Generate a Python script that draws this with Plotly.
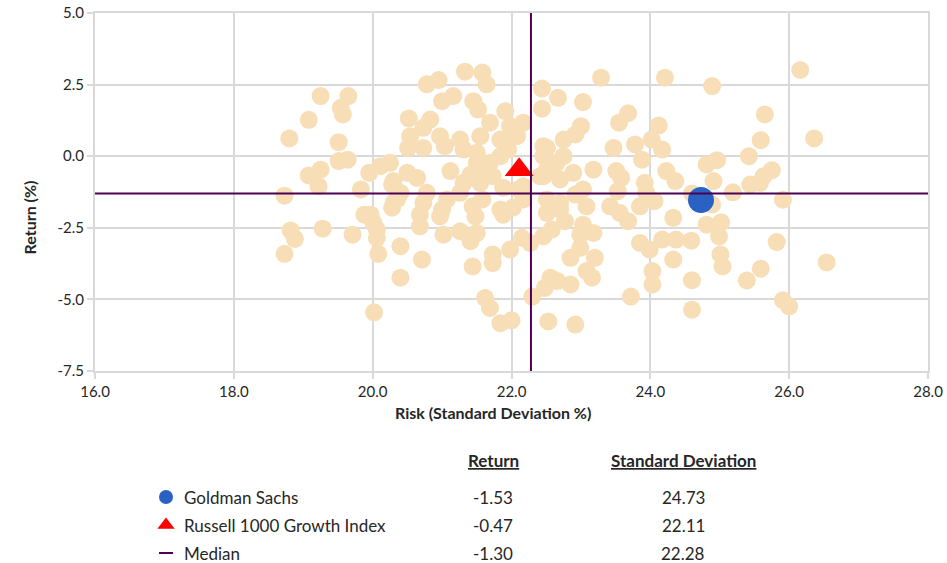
import plotly.graph_objects as go

# ---------------- data ----------------
risk_peers = [
    19.25, 19.65, 19.54, 19.57, 19.08, 18.80, 19.51, 19.51, 19.64, 19.08,
    19.25, 19.22, 18.73, 19.83, 19.95, 20.11, 20.25, 20.28, 18.82, 18.88,
    19.28, 18.73, 19.71, 19.88, 19.97, 20.01, 20.06, 20.06, 20.08, 20.02,
    20.28, 20.35, 20.40, 20.40, 21.33, 21.58, 21.64, 20.78, 20.95, 21.16,
    21.00, 21.45, 21.52, 22.44, 22.44, 21.91, 20.52, 20.83, 21.69, 22.17,
    21.98, 20.73, 20.54, 20.97, 21.55, 21.84, 22.08, 21.26, 20.51, 20.73,
    21.04, 21.31, 21.50, 21.69, 21.50, 21.95, 22.46, 20.50, 20.64, 21.12,
    21.41, 21.60, 21.31, 21.55, 21.88, 22.17, 22.41, 20.40, 20.78, 20.68,
    20.68, 21.00, 21.02, 21.26, 21.48, 21.50, 21.41, 21.88, 22.02, 21.26,
    20.73, 20.71, 21.44, 21.73, 21.73, 21.98, 22.15, 22.27, 21.62, 21.69,
    21.84, 22.00, 22.30, 22.48, 22.56, 22.53, 23.29, 24.21, 22.67, 23.03,
    23.68, 23.55, 24.12, 23.00, 22.92, 22.75, 22.51, 23.47, 23.78, 24.02,
    24.17, 23.88, 22.65, 22.46, 22.89, 23.18, 23.51, 23.58, 24.23, 24.36,
    23.92, 23.03, 23.53, 23.08, 23.42, 23.56, 23.68, 23.85, 24.06, 24.33,
    22.51, 22.70, 22.77, 22.58, 22.46, 22.99, 23.03, 23.18, 23.85, 23.99,
    24.17, 24.37, 24.59, 24.33, 22.85, 22.99, 23.20, 23.08, 22.66, 22.85,
    23.16, 24.03, 24.03, 23.72, 24.60, 24.60, 22.92, 24.89, 26.16, 25.65,
    26.36, 25.59, 25.42, 24.96, 24.81, 25.75, 25.63, 25.58, 25.44, 24.91,
    25.19, 25.91, 24.60, 24.89, 24.81, 25.02, 24.99, 25.82, 25.01, 25.04,
    25.59, 25.39, 26.54, 25.91, 26.00, 20.30, 21.73, 22.10, 20.30, 21.07,
    20.97, 21.44, 21.58, 21.84, 22.17, 22.51, 22.70, 22.51, 22.46, 22.75,
    22.70, 21.84, 22.92, 23.94,
]
return_peers = [
    2.10, 2.10, 1.69, 1.46, 1.27, 0.62, 0.49, -0.17, -0.12, -0.67,
    -0.47, -1.05, -1.38, -1.16, -0.58, -0.35, -0.23, -0.99, -2.59, -2.89,
    -2.53, -3.41, -2.74, -2.04, -2.04, -2.33, -2.56, -2.85, -3.41, -5.45,
    -1.80, -1.51, -3.14, -4.24, 2.95, 2.92, 2.51, 2.51, 2.66, 2.10,
    1.92, 1.92, 1.63, 2.36, 1.66, 1.57, 1.32, 1.28, 1.17, 1.17,
    1.05, 0.99, 0.70, 0.70, 0.70, 0.58, 0.70, 0.58, 0.29, 0.29,
    0.35, 0.23, 0.12, -0.23, -0.23, 0.23, 0.35, -0.58, -0.76, -0.52,
    -0.64, -0.47, -0.93, -0.93, -1.10, -1.05, -0.70, -1.28, -1.28, -2.04,
    -2.45, -1.86, -2.74, -2.62, -2.10, -2.68, -2.97, -2.04, -1.80, -1.28,
    -1.63, -3.61, -3.85, -3.43, -3.73, -3.26, -2.85, -3.03, -4.95, -5.30,
    -5.83, -5.73, -4.90, -4.60, -4.24, -5.77, 2.74, 2.74, 2.04, 1.89,
    1.50, 1.17, 1.07, 1.05, 0.76, 0.58, 0.29, 0.29, 0.41, 0.58,
    0.23, -0.12, -0.23, -0.70, -0.58, -0.47, -0.52, -0.76, -0.52, -0.87,
    -0.93, -1.16, -1.22, -1.75, -1.75, -1.98, -2.27, -1.75, -1.57, -2.15,
    -1.98, -1.86, -2.27, -2.56, -2.80, -2.74, -2.39, -2.68, -3.03, -3.26,
    -2.91, -2.91, -2.95, -3.61, -3.55, -3.20, -3.55, -4.01, -4.36, -4.48,
    -4.24, -4.01, -4.48, -4.90, -4.33, -5.36, -5.88, 2.45, 3.01, 1.46,
    0.62, 0.56, 0.00, -0.14, -0.29, -0.49, -0.70, -0.93, -0.99, -0.87,
    -1.26, -1.52, -1.30, -1.69, -2.39, -2.31, -2.80, -3.00, -3.43, -3.85,
    -3.93, -4.34, -3.71, -5.03, -5.24, -0.87, -0.70, -1.16, -1.63, -1.51,
    -2.10, -1.75, -1.51, -1.86, -1.51, -1.51, -1.63, -0.47, 0.00, 0.00,
    -0.81, 0.00, -1.34, -1.28,
]
assert len(risk_peers) == len(return_peers)

series_names = ["Goldman Sachs", "Russell 1000 Growth Index", "Median"]
series_return = [-1.53, -0.47, -1.30]
series_risk = [24.73, 22.11, 22.28]

x_ticks = [16.0, 18.0, 20.0, 22.0, 24.0, 26.0, 28.0]
y_ticks = [-7.5, -5.0, -2.5, 0.0, 2.5, 5.0]
x_ticktext = [f"{v:.1f}" for v in x_ticks]
y_ticktext = [f"{v:.1f}" for v in y_ticks]   # keeps ASCII hyphen for negatives

# ---------------- styles ----------------
FONT = "Lato, 'Open Sans', sans-serif"
TXT = "#262626"
GRID = "#D9D9D9"
PEER = "#F8DEB6"
BLUE = "#2A62C4"
RED = "#FF0000"
MED = "#4B0050"

W, H = 947, 563
ML, MR, MT, MB = 95, W - 928, 13, 0
plot_h = H - MT - MB
pw = W - ML - MR
main_bottom = (H - 371) / plot_h


def paper_y(screen_y):
    return (H - screen_y) / plot_h


def paper_x(screen_x):
    return (screen_x - ML) / pw


fig = go.Figure()

fig.add_trace(go.Scatter(
    x=risk_peers, y=return_peers, mode="markers",
    marker=dict(size=18, color=PEER, line=dict(width=0)),
    hoverinfo="skip", showlegend=False))
fig.add_trace(go.Scatter(
    x=[series_risk[0]], y=[series_return[0]], mode="markers",
    marker=dict(size=26, color=BLUE, line=dict(width=0)),
    showlegend=False, name=series_names[0]))
fig.add_trace(go.Scatter(
    x=[series_risk[1]], y=[series_return[1]], mode="markers",
    marker=dict(size=25, symbol="triangle-up", color=RED, line=dict(width=0)),
    showlegend=False, name=series_names[1]))
# median cross-hair
fig.add_trace(go.Scatter(
    x=[x_ticks[0], x_ticks[-1]], y=[series_return[2]] * 2, mode="lines",
    line=dict(color=MED, width=2), showlegend=False, hoverinfo="skip"))
fig.add_trace(go.Scatter(
    x=[series_risk[2]] * 2, y=[y_ticks[0], y_ticks[-1]], mode="lines",
    line=dict(color=MED, width=2), showlegend=False, hoverinfo="skip"))

# ---------------- table (legend) on an overlay axis ----------------
TABLE_H = 137.5
row_px0, row_step = 497, 28
y2_range = [(H - row_px0) / row_step, (H - TABLE_H - row_px0) / row_step]
header_row = (460 - row_px0) / row_step
key_x = 166
fig.add_trace(go.Scatter(x=[key_x], y=[0], mode="markers", xaxis="x2", yaxis="y2",
                         marker=dict(size=14, color=BLUE), showlegend=False, hoverinfo="skip"))
fig.add_trace(go.Scatter(x=[key_x], y=[1], mode="markers", xaxis="x2", yaxis="y2",
                         marker=dict(size=15, symbol="triangle-up", color=RED),
                         showlegend=False, hoverinfo="skip"))
fig.add_trace(go.Scatter(x=[key_x - 7, key_x + 7], y=[2, 2], mode="lines", xaxis="x2", yaxis="y2",
                         line=dict(color=MED, width=2), showlegend=False, hoverinfo="skip"))

TFS = 17
ann = []
col_ret, col_sd, name_x = 493, 683, 182
ann.append(dict(x=col_ret, y=header_row, xref="x2", yref="y2", text="<b><u>Return</u></b>",
                showarrow=False, font=dict(size=TFS, color=TXT, family=FONT)))
ann.append(dict(x=col_sd, y=header_row, xref="x2", yref="y2", text="<b><u>Standard Deviation</u></b>",
                showarrow=False, font=dict(size=TFS, color=TXT, family=FONT)))
for i, nm in enumerate(series_names):
    ann.append(dict(x=name_x, y=i, xref="x2", yref="y2", text=nm, xanchor="left",
                    showarrow=False, font=dict(size=TFS, color=TXT, family=FONT)))
    ann.append(dict(x=col_ret, y=i, xref="x2", yref="y2", text=f"{series_return[i]:.2f}",
                    showarrow=False, font=dict(size=TFS, color=TXT, family=FONT)))
    ann.append(dict(x=col_sd, y=i, xref="x2", yref="y2", text=f"{series_risk[i]:.2f}",
                    showarrow=False, font=dict(size=TFS, color=TXT, family=FONT)))

# axis titles
ann.append(dict(x=paper_x(493), y=paper_y(424), xref="paper", yref="paper",
                text="<b>Risk (Standard Deviation %)</b>", showarrow=False,
                font=dict(size=16, color=TXT, family=FONT)))
ann.append(dict(x=paper_x(18), y=paper_y(218), xref="paper", yref="paper",
                text="<b>Return (%)</b>", textangle=-90, showarrow=False,
                font=dict(size=16, color=TXT, family=FONT)))

axis_common = dict(showgrid=True, gridcolor=GRID, gridwidth=2, zeroline=False,
                   showline=True, linecolor=GRID, linewidth=2, mirror=True,
                   ticks="outside", ticklen=6, tickcolor=GRID, tickwidth=2,
                   tickfont=dict(size=15, color=TXT, family=FONT))

fig.update_layout(
    width=W, height=H,
    margin=dict(l=ML, r=MR, t=MT, b=MB, autoexpand=False),
    paper_bgcolor="white", plot_bgcolor="white",
    font=dict(family=FONT, color=TXT),
    xaxis=dict(range=[x_ticks[0], x_ticks[-1]], tickvals=x_ticks, ticktext=x_ticktext,
               domain=[0, 1], anchor="y", **axis_common),
    yaxis=dict(range=[y_ticks[0], y_ticks[-1]], tickvals=y_ticks, ticktext=y_ticktext,
               domain=[main_bottom, 1], anchor="x", **axis_common),
    xaxis2=dict(range=[95, 928], domain=[0, 1], anchor="y2", visible=False, fixedrange=True),
    yaxis2=dict(range=y2_range, domain=[0, TABLE_H / plot_h], anchor="x2", visible=False,
                fixedrange=True),
    annotations=ann,
    showlegend=False,
    hovermode=False,
)

# remove the browser's default 8px body margin so the figure fills the window exactly
fig.write_html("out.html",
               config={"displayModeBar": False},
               post_script="document.body.style.margin='0';document.body.style.overflow='hidden';")
